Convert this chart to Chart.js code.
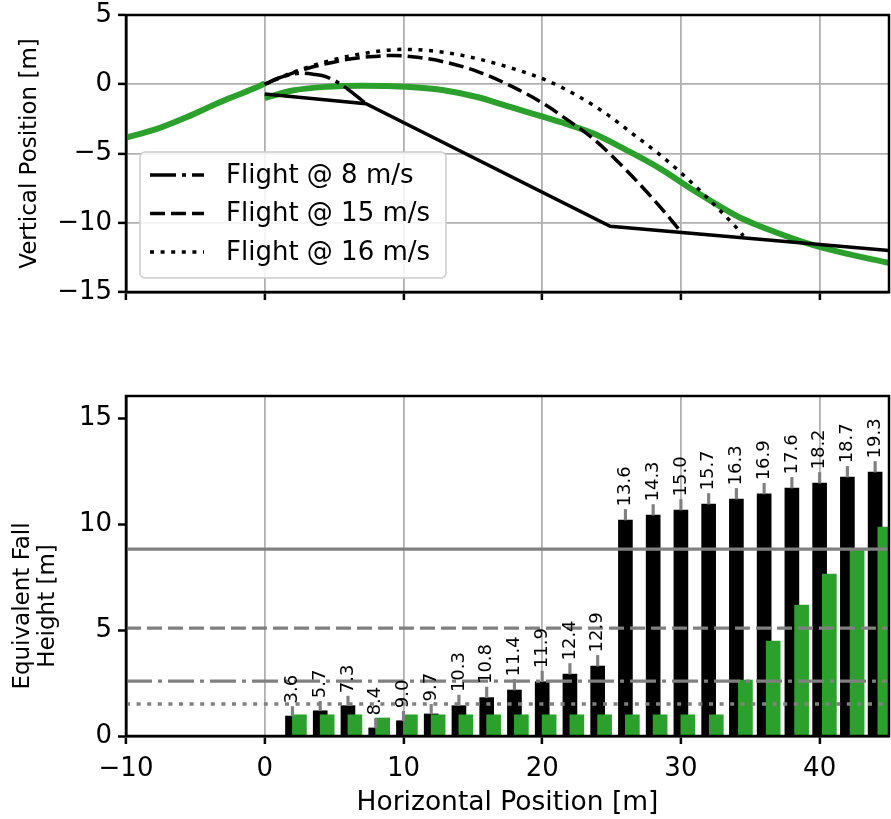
<!DOCTYPE html>
<html>
<head>
<meta charset="utf-8">
<script src="https://cdn.jsdelivr.net/npm/chart.js@4/dist/chart.umd.min.js"></script>
<style>
  body { margin: 0; background: #fff; }
  #wrap { position: relative; width: 891px; height: 819px; }
  canvas { position: absolute; left: 0; }
  #topChart { top: 0; }
  #botChart { top: 330px; }
</style>
</head>
<body>
<div id="wrap">
  <canvas id="topChart" width="891" height="330"></canvas>
  <canvas id="botChart" width="891" height="489"></canvas>
</div>
<script>
// ---- data: top panel (trajectories) ----
const slopeX = [0, 7.3, 24.9, 45];
const slopeY = [-0.7, -1.4, -10.25, -12.0];

const greenLeftX = [-10, -8, -5.6, -3.2, -0.8, 0];
const greenLeftY = [-3.85, -3.3, -2.36, -1.28, -0.31, 0.05];
const greenRightX = [0, 2, 4.5, 7, 10.5, 12.9, 15.3, 17.7, 20.1, 21.3, 23.7, 26.1, 28.5, 30.9, 33.3, 34.2, 35.7, 36.6, 39, 41.4, 45];
const greenRightY = [-1.0, -0.45, -0.18, -0.1, -0.2, -0.43, -0.92, -1.64, -2.36, -2.72, -3.56, -4.77, -6.09, -7.65, -9.1, -9.6, -10.25, -10.6, -11.45, -12.1, -12.9];

const flight8X = [0, 1, 2, 2.7, 3.5, 4.45, 5.4, 6.4, 7.3];
const flight8Y = [0, 0.45, 0.72, 0.8, 0.72, 0.53, 0.05, -0.67, -1.4];
const flight15X = [0, 1, 2, 3, 4.5, 6, 7.5, 9.3, 11, 12.9, 15.4, 17.7, 20.1, 22, 23.7, 26.1, 28.5, 30];
const flight15Y = [0, 0.42, 0.8, 1.12, 1.5, 1.8, 1.98, 2.08, 1.95, 1.62, 0.9, -0.1, -1.4, -2.7, -3.95, -6.25, -8.85, -10.65];
const flight16X = [0, 2, 4.5, 7, 10, 12.9, 15.5, 17.9, 20.3, 22.7, 24.6, 26.5, 28.5, 29.9, 31.4, 32.8, 34, 34.5];
const flight16Y = [0, 0.85, 1.65, 2.2, 2.52, 2.31, 1.8, 1.13, 0.29, -0.92, -2.12, -3.56, -5.1, -6.3, -7.7, -9.1, -10.35, -10.95];

// ---- data: bottom panel (fall heights) ----
const barX = [2, 4, 6, 8, 10, 12, 14, 16, 18, 20, 22, 24, 26, 28, 30, 32, 34, 36, 38, 40, 42, 44];
const fallHeight = [0.94, 1.19, 1.43, 0.38, 0.72, 1.04, 1.43, 1.81, 2.17, 2.56, 2.92, 3.30,
                    10.19, 10.42, 10.66, 10.94, 11.18, 11.42, 11.70, 11.93, 12.22, 12.45];
const fallErr = [0.45, 0.45, 0.45, 0.45, 0.45, 0.45, 0.5, 0.5, 0.5, 0.5, 0.5, 0.5,
                 0.5, 0.5, 0.5, 0.5, 0.5, 0.5, 0.5, 0.5, 0.5, 0.5];
const speedLabels = ['3.6', '5.7', '7.3', '8.4', '9.0', '9.7', '10.3', '10.8', '11.4', '11.9', '12.4', '12.9',
                     '13.6', '14.3', '15.0', '15.7', '16.3', '16.9', '17.6', '18.2', '18.7', '19.3'];
const greenX = [2.5, 4.5, 6.5, 8.5, 10.5, 12.5, 14.5, 16.5, 18.5, 20.5, 22.5, 24.5,
                26.5, 28.5, 30.5, 32.55, 34.65, 36.65, 38.7, 40.7, 42.7, 44.7];
const greenHeight = [1.0, 1.0, 1.0, 0.85, 1.0, 1.0, 1.0, 1.0, 1.0, 1.0, 1.0, 1.0,
                     1.0, 1.0, 1.0, 1.0, 2.64, 4.48, 6.18, 7.64, 8.8, 9.86];
const refLevels = [8.82, 5.09, 2.59, 1.51];

const xTicks = [-10, 0, 10, 20, 30, 40];

Chart.defaults.font.family = "'DejaVu Sans'";
Chart.defaults.font.size = 26;
Chart.defaults.color = '#000';

const GREEN = '#2ca02c';
const GRID = '#b0b0b0';
const REF = '#808080';
const DASHES = { solid: [], dashed: [15, 6], dashdot: [26, 6, 4, 6], dotted: [4, 6.6] };

const pts = (xs, ys) => xs.map((x, i) => ({ x: x, y: ys[i] }));
const minus = v => String(v).replace('-', '\u2212');

const framePlugin = {
  id: 'frame',
  afterDraw(chart) {
    const { ctx, chartArea: a } = chart;
    ctx.save();
    ctx.strokeStyle = '#000';
    ctx.lineWidth = 2.5;
    ctx.strokeRect(a.left, a.top, a.right - a.left, a.bottom - a.top);
    ctx.restore();
  }
};

// legend drawn inside the plot, like matplotlib's
const flightLegend = {
  id: 'flightLegend',
  afterDraw(chart) {
    const { ctx, chartArea: a } = chart;
    const bx = a.left + 14, by = a.top + 137, bw = 306, bh = 126;
    ctx.save();
    ctx.beginPath();
    ctx.roundRect(bx, by, bw, bh, 5);
    ctx.fillStyle = 'rgba(255,255,255,0.85)';
    ctx.fill();
    ctx.strokeStyle = '#cccccc';
    ctx.lineWidth = 1.5;
    ctx.stroke();
    const items = chart.data.datasets.filter(d => d.label);
    items.forEach((d, i) => {
      const y = by + 23 + i * 38.5;
      ctx.beginPath();
      ctx.setLineDash(d.borderDash || []);
      ctx.strokeStyle = d.borderColor;
      ctx.lineWidth = d.borderWidth;
      ctx.moveTo(bx + 10, y);
      ctx.lineTo(bx + 64, y);
      ctx.stroke();
      ctx.setLineDash([]);
      ctx.fillStyle = '#000';
      ctx.font = "26px 'DejaVu Sans'";
      ctx.textBaseline = 'middle';
      ctx.fillText(d.label, bx + 86, y + 1);
    });
    ctx.restore();
  }
};

new Chart(document.getElementById('topChart'), {
  type: 'line',
  data: {
    datasets: [
      { label: 'Flight @ 8 m/s', data: pts(flight8X, flight8Y), borderColor: '#000', borderWidth: 3.5, borderDash: DASHES.dashdot, cubicInterpolationMode: 'monotone' },
      { label: 'Flight @ 15 m/s', data: pts(flight15X, flight15Y), borderColor: '#000', borderWidth: 3.5, borderDash: DASHES.dashed, cubicInterpolationMode: 'monotone' },
      { label: 'Flight @ 16 m/s', data: pts(flight16X, flight16Y), borderColor: '#000', borderWidth: 3.5, borderDash: DASHES.dotted, cubicInterpolationMode: 'monotone' },
      { data: pts(slopeX, slopeY), borderColor: '#000', borderWidth: 3.5, tension: 0 },
      { data: pts(greenLeftX, greenLeftY), borderColor: GREEN, borderWidth: 6, cubicInterpolationMode: 'monotone' },
      { data: pts(greenRightX, greenRightY), borderColor: GREEN, borderWidth: 6, cubicInterpolationMode: 'monotone' }
    ]
  },
  options: {
    responsive: false,
    animation: false,
    devicePixelRatio: 1,
    layout: { padding: { top: 15, right: 2, left: 0, bottom: 0 } },
    elements: { point: { radius: 0 }, line: { borderCapStyle: 'butt' } },
    plugins: { legend: { display: false }, tooltip: { enabled: false } },
    scales: {
      x: {
        type: 'linear', min: -10, max: 45,
        afterBuildTicks: s => { s.ticks = xTicks.map(v => ({ value: v })); },
        afterFit: s => { s.height = 38; },
        ticks: { display: false },
        grid: { color: GRID, lineWidth: 1.8, tickColor: '#000', tickLength: 8, tickWidth: 2.5 },
        border: { color: '#000', width: 2.5 }
      },
      y: {
        min: -15, max: 5,
        afterFit: s => { s.width = 126; },
        ticks: { stepSize: 5, padding: 6, callback: minus, font: { lineHeight: 0.6 } },
        grid: { color: GRID, lineWidth: 1.8, tickColor: '#000', tickLength: 8, tickWidth: 2.5 },
        border: { color: '#000', width: 2.5 },
        title: { display: true, text: 'Vertical Position [m]', font: { size: 23 }, padding: { top: 16 } }
      }
    }
  },
  plugins: [framePlugin, flightLegend]
});

// rotated speed labels above the black bars
const speedText = {
  id: 'speedText',
  afterDatasetsDraw(chart) {
    const { ctx, scales } = chart;
    ctx.save();
    ctx.font = "18px 'DejaVu Sans'";
    ctx.fillStyle = '#000';
    ctx.textAlign = 'left';
    ctx.textBaseline = 'middle';
    speedLabels.forEach((t, i) => {
      const px = scales.x.getPixelForValue(barX[i]);
      const py = scales.y.getPixelForValue(fallHeight[i] + fallErr[i]) - 3;
      ctx.save();
      ctx.translate(px, py);
      ctx.rotate(-Math.PI / 2);
      ctx.fillText(t, 0, 0);
      ctx.restore();
    });
    ctx.restore();
  }
};

// two-line y title, placed like the matplotlib label
const fallTitle = {
  id: 'fallTitle',
  afterDraw(chart) {
    const { ctx, chartArea: a } = chart;
    ctx.save();
    ctx.font = "23px 'DejaVu Sans'";
    ctx.fillStyle = '#000';
    ctx.textAlign = 'center';
    ctx.textBaseline = 'middle';
    ['Equivalent Fall', 'Height [m]'].forEach((t, i) => {
      ctx.save();
      ctx.translate(23 + i * 25, a.top + 210);
      ctx.rotate(-Math.PI / 2);
      ctx.fillText(t, 0, 0);
      ctx.restore();
    });
    ctx.restore();
  }
};

const refStyles = [DASHES.solid, DASHES.dashed, DASHES.dashdot, DASHES.dotted];

new Chart(document.getElementById('botChart'), {
  type: 'bar',
  data: {
    datasets: [
      ...refLevels.map((lv, i) => ({
        type: 'line', data: [{ x: -10, y: lv }, { x: 45, y: lv }],
        borderColor: REF, borderWidth: 3.3, borderDash: refStyles[i], order: 0, pointRadius: 0
      })),
      { data: barX.map((x, i) => ({ x: x, y: [fallHeight[i], fallHeight[i] + fallErr[i]] })),
        backgroundColor: REF, barThickness: 2.5, grouped: false, order: 1 },
      { data: pts(greenX, greenHeight), backgroundColor: GREEN, barThickness: 14, grouped: false, order: 2 },
      { data: pts(barX, fallHeight), backgroundColor: '#000', barThickness: 14, grouped: false, order: 3 }
    ]
  },
  options: {
    responsive: false,
    animation: false,
    devicePixelRatio: 1,
    layout: { padding: { top: 66, right: 2, left: 0, bottom: 0 } },
    plugins: { legend: { display: false }, tooltip: { enabled: false } },
    scales: {
      x: {
        type: 'linear', min: -10, max: 45, offset: false, z: 1,
        afterBuildTicks: s => { s.ticks = xTicks.map(v => ({ value: v })); },
        afterFit: s => { s.height = 83; },
        ticks: { padding: 12, callback: minus, font: { lineHeight: 1.0 } },
        grid: { offset: false, color: GRID, lineWidth: 1.8, tickColor: '#000', tickLength: 8, tickWidth: 2.5 },
        border: { color: '#000', width: 2.5 },
        title: { display: true, text: 'Horizontal Position [m]', font: { size: 26.5, lineHeight: 1.0 }, padding: { top: 0, bottom: 3 } }
      },
      y: {
        min: 0, max: 16.04,
        afterFit: s => { s.width = 126; },
        ticks: { stepSize: 5, padding: 6, includeBounds: false },
        grid: { drawOnChartArea: false, tickColor: '#000', tickLength: 8, tickWidth: 2.5 },
        border: { color: '#000', width: 2.5 }
      }
    }
  },
  plugins: [framePlugin, speedText, fallTitle]
});
</script>
</body>
</html>
